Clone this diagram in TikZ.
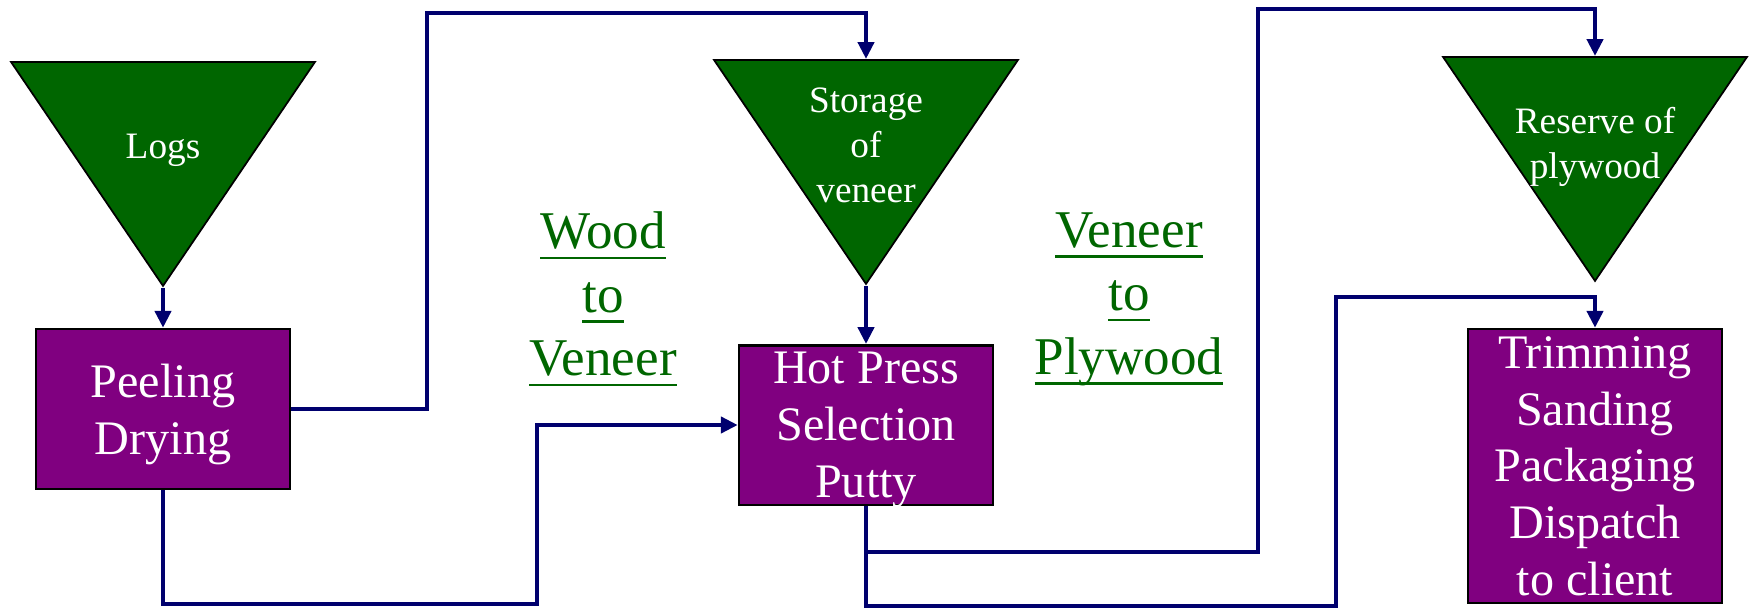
\documentclass[tikz,border=0pt]{standalone}
\usepackage{fontspec}
\setmainfont{Liberation Serif}
\usepackage{xcolor}
\definecolor{StockGreen}{RGB}{0,102,0}
\definecolor{StepPurple}{RGB}{128,0,128}
\definecolor{FlowNavy}{RGB}{0,0,110}
\definecolor{LabelGreen}{RGB}{0,102,0}
\usepackage{tikz}
\usetikzlibrary{
  shapes, shapes.geometric,
  arrows, arrows.meta,
  positioning, calc
}
% underlined word, rule at a fixed depth
\newcommand{\ulword}[1]{\setbox0\hbox{#1}\rlap{\rule[-3pt]{\wd0}{0.7pt}}\box0}
\tikzset{
  % Stock triangle (apex down)
  stock/.style={
    isosceles triangle, isosceles triangle stretches,
    shape border rotate=270,
    draw=black, line width=0.5pt, fill=StockGreen,
    minimum width=3.04cm, minimum height=2.24cm,
    inner sep=0pt
  },
  % Text inside a stock triangle
  stocktext/.style={
    text=white, align=center,
    font=\fontsize{10.6pt}{12.8pt}\selectfont
  },
  % Process box
  procbox/.style={
    rectangle, draw=black, line width=0.7pt,
    fill=StepPurple, text=white, align=center,
    minimum width=2.54cm, inner sep=2pt, text depth=0pt,
    font=\fontsize{13.7pt}{16.2pt}\selectfont
  },
  % Stage label
  stagelabel/.style={
    text=LabelGreen, align=center,
    font=\fontsize{15.1pt}{18.1pt}\selectfont
  },
  % Flow arrows
  arr/.style={-{Triangle[length=0.17cm,width=0.16cm]}, line width=1.3pt, FlowNavy},
}

\begin{document}
\begin{tikzpicture}
  \useasboundingbox (0,0) rectangle (17.5,-6.09);

  %% Stocks
  \node[stock, anchor=north] (logs) at (1.63,-0.61) {};
  \node[stock, anchor=north] (stor) at (8.66,-0.59) {};
  \node[stock, anchor=north] (res)  at (15.95,-0.56) {};
  \node[stocktext] (logsT) at (1.63,-1.50) {Logs};
  \node[stocktext] (storT) at (8.66,-1.45) {Storage\\of\\veneer};
  \node[stocktext] (resT)  at (15.95,-1.47) {Reserve of\\plywood};

  %% Process steps
  \node[procbox, minimum height=1.60cm] (peel) at (1.63,-4.09) {Peeling\\Drying};
  \node[procbox, minimum height=1.59cm] (hot)  at (8.66,-4.25) {Hot Press\\Selection\\Putty};
  \node[procbox, minimum height=2.74cm] (trim) at (15.95,-4.66)
    {Trimming\\Sanding\\Packaging\\Dispatch\\to client};

  %% Stage labels
  \node[stagelabel] (woodL) at (6.03,-2.99) {\ulword{Wood}\\\ulword{to}\\\ulword{Veneer}};
  \node[stagelabel] (plyL)  at (11.29,-2.99) {\ulword{Veneer}\\\ulword{to}\\\ulword{Plywood}};

  %% Bend points of the flows
  \coordinate (upA)  at (4.27,-0.13);
  \coordinate (lowA) at (5.37,-6.04);
  \coordinate (upB)  at (12.58,-0.09);
  \coordinate (midB) at (12.58,-5.52);
  \coordinate (lowB) at (13.36,-6.06);
  \coordinate (midC) at (13.36,-2.97);

  %% Flows
  \draw[arr] (logs.south) -- (peel.north);
  \draw[arr] (stor.south) -- (hot.north);
  \draw[arr] (peel.east) -| (upA) -| (stor.north);
  \draw[arr] (peel.south) |- (lowA) |- (hot.west);
  \draw[arr] (hot.south) |- (midB) -- (upB) -| (res.north);
  \draw[arr] (hot.south) |- (lowB) -- (midC) -| (trim.north);
\end{tikzpicture}
\end{document}
